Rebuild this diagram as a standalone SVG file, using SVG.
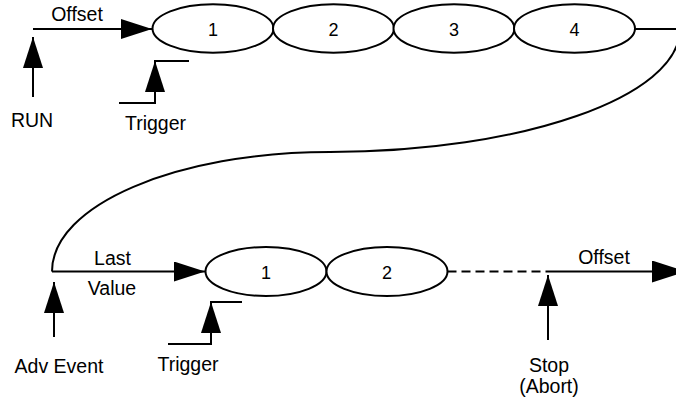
<svg xmlns="http://www.w3.org/2000/svg" width="676" height="406" viewBox="0 0 676 406">
<style>
.bg{fill:#ffffff}
.node ellipse{fill:#ffffff;stroke:#000000;stroke-width:2}
.num{font-family:"Liberation Sans",Arial,sans-serif;font-size:18px;fill:#000000;text-anchor:middle}
.lbl{font-family:"Liberation Sans",Arial,sans-serif;font-size:19.5px;fill:#000000;text-anchor:middle}
.ln{fill:none;stroke:#000000;stroke-width:2}
.dash{stroke-dasharray:9 5}
</style>
<defs>
<marker id="ah" markerUnits="userSpaceOnUse" markerWidth="31" markerHeight="20" viewBox="0 0 31 20" refX="31" refY="10" orient="auto">
<path d="M0,0 L31,10 L0,20 Z" fill="#000000"/>
</marker>
<marker id="ahL" markerUnits="userSpaceOnUse" markerWidth="34" markerHeight="22" viewBox="0 0 34 22" refX="34" refY="11" orient="auto">
<path d="M0,0 L34,11 L0,22 Z" fill="#000000"/>
</marker>
</defs>
<rect class="bg" x="0" y="0" width="676" height="406"/>
<g id="connectors">
<path class="ln" d="M33,29 H152" marker-end="url(#ah)"/>
<path class="ln" d="M33,97 V37" marker-end="url(#ah)"/>
<path class="ln" d="M119,103 H155 V61 H189"/>
<path class="ln" d="M155,92 V61" marker-end="url(#ah)"/>
<path class="ln" d="M634,29 H680 C680,97 521,152 330,152 C176.5,152 52,205 52,271.5"/>
<path class="ln" d="M52,271.5 H205" marker-end="url(#ah)"/>
<path class="ln" d="M54,337 V282" marker-end="url(#ah)"/>
<path class="ln" d="M168,344 H211 V302 H242"/>
<path class="ln" d="M211,333 V302" marker-end="url(#ah)"/>
<path class="ln dash" d="M447.5,271.5 H549"/>
<path class="ln" d="M549,271.5 H686" marker-end="url(#ahL)"/>
<path class="ln" d="M548,340 V275" marker-end="url(#ah)"/>
</g>
<g id="node-t1" class="node"><ellipse cx="213" cy="28.5" rx="60.5" ry="24.2"/><text class="num" x="213" y="35.5">1</text></g>
<g id="node-t2" class="node"><ellipse cx="333.5" cy="28.5" rx="60.5" ry="24.2"/><text class="num" x="333.5" y="35.5">2</text></g>
<g id="node-t3" class="node"><ellipse cx="454" cy="28.5" rx="60.5" ry="24.2"/><text class="num" x="454" y="35.5">3</text></g>
<g id="node-t4" class="node"><ellipse cx="574.5" cy="28.5" rx="60.5" ry="24.2"/><text class="num" x="574.5" y="35.5">4</text></g>
<g id="node-b1" class="node"><ellipse cx="266" cy="271.5" rx="60.5" ry="24.5"/><text class="num" x="266" y="278.5">1</text></g>
<g id="node-b2" class="node"><ellipse cx="387" cy="271.5" rx="60.5" ry="24.5"/><text class="num" x="387" y="278.5">2</text></g>
<g id="labels">
<text class="lbl" x="77" y="20.5">Offset</text>
<text class="lbl" x="32" y="127">RUN</text>
<text class="lbl" x="155.5" y="130">Trigger</text>
<text class="lbl" x="112.5" y="265">Last</text>
<text class="lbl" x="112" y="295">Value</text>
<text class="lbl" x="59" y="373">Adv Event</text>
<text class="lbl" x="188" y="371">Trigger</text>
<text class="lbl" x="604" y="264">Offset</text>
<text class="lbl" x="549" y="371.5">Stop</text>
<text class="lbl" x="549" y="393">(Abort)</text>
</g>
</svg>
